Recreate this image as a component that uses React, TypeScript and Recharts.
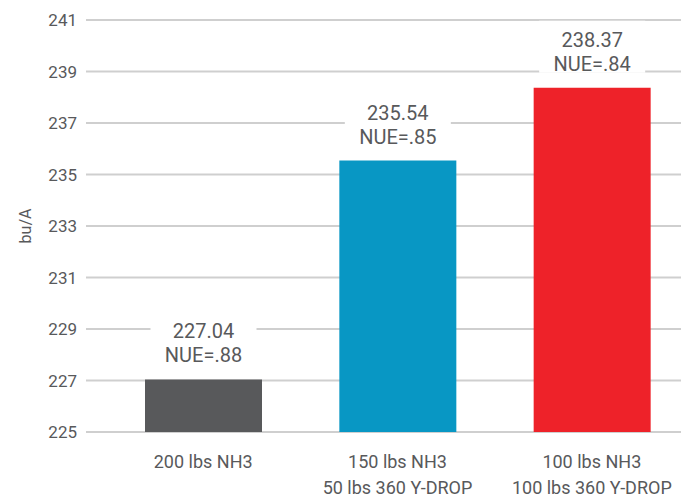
import React from 'react';
import { BarChart, Bar, XAxis, YAxis, CartesianGrid, Cell, LabelList } from 'recharts';

const categoriesLine1 = ['200 lbs NH3', '150 lbs NH3', '100 lbs NH3'];
const categoriesLine2 = ['', '50 lbs 360 Y-DROP', '100 lbs 360 Y-DROP'];
const yieldValues = [227.04, 235.54, 238.37];
const nueLabels = ['NUE=.88', 'NUE=.85', 'NUE=.84'];
const barColors = ['#58595b', '#0897c4', '#ee2229'];
const yTicks = [225, 227, 229, 231, 233, 235, 237, 239, 241];

const data = categoriesLine1.map((c, i) => ({
  name: c,
  line2: categoriesLine2[i],
  value: yieldValues[i],
  nue: nueLabels[i],
}));

const TEXT = '#58595b';
const FONT = 'Roboto, "Noto Sans", sans-serif';

const XTick = (props: any) => {
  const { x, y, payload, index } = props;
  const l2 = categoriesLine2[index ?? payload.index] ?? '';
  return (
    <g>
      <text x={x} y={y + 21} textAnchor="middle" dominantBaseline="central" fill={TEXT} fontSize={18} fontFamily={FONT}>
        {payload.value}
      </text>
      {l2 ? (
        <text x={x} y={y + 47} textAnchor="middle" dominantBaseline="central" fill={TEXT} fontSize={18} fontFamily={FONT}>
          {l2}
        </text>
      ) : null}
    </g>
  );
};

const ValueLabel = (props: any) => {
  const { x, y, width, value, index } = props;
  const cx = x + width / 2;
  return (
    <g>
      <rect x={cx - 53} y={y - 67} width={106} height={52} fill="#ffffff" />
      <text x={cx} y={y - 48} textAnchor="middle" dominantBaseline="central" fill={TEXT} fontSize={20} fontFamily={FONT}>
        {Number(value).toFixed(2)}
      </text>
      <text x={cx} y={y - 24} textAnchor="middle" dominantBaseline="central" fill={TEXT} fontSize={20} fontFamily={FONT}>
        {nueLabels[index]}
      </text>
    </g>
  );
};

const YLabel = (props: any) => {
  const { viewBox } = props;
  const cx = 17;
  const cy = viewBox.y + viewBox.height / 2;
  return (
    <text x={cx} y={cy} transform={`rotate(-90, ${cx}, ${cy})`} textAnchor="middle" dominantBaseline="central" fill={TEXT} fontSize={16} fontFamily={FONT}>
      bu/A
    </text>
  );
};

export default function App() {
  return (
    <div style={{ width: 681, height: 492 }}>
      <BarChart width={681} height={492} data={data} margin={{ top: 12, right: 0, bottom: 8, left: 0 }}>
        <CartesianGrid vertical={false} stroke="#cfcfcf" strokeWidth={2} />
        <XAxis
          dataKey="name"
          axisLine={false}
          tickLine={false}
          height={60}
          padding={{ left: 20, right: 0 }}
          tick={<XTick />}
          interval={0}
        />
        <YAxis
          domain={[225, 241]}
          ticks={yTicks}
          axisLine={false}
          tickLine={false}
          tickSize={0}
          tickMargin={9}
          width={78}
          tick={{ fill: TEXT, fontSize: 17, fontFamily: FONT }}
          label={<YLabel />}
          allowDataOverflow
        />
        <Bar dataKey="value" barSize={117} isAnimationActive={false}>
          {data.map((d, i) => (
            <Cell key={d.name} fill={barColors[i]} />
          ))}
          <LabelList dataKey="value" content={<ValueLabel />} />
        </Bar>
      </BarChart>
    </div>
  );
}
